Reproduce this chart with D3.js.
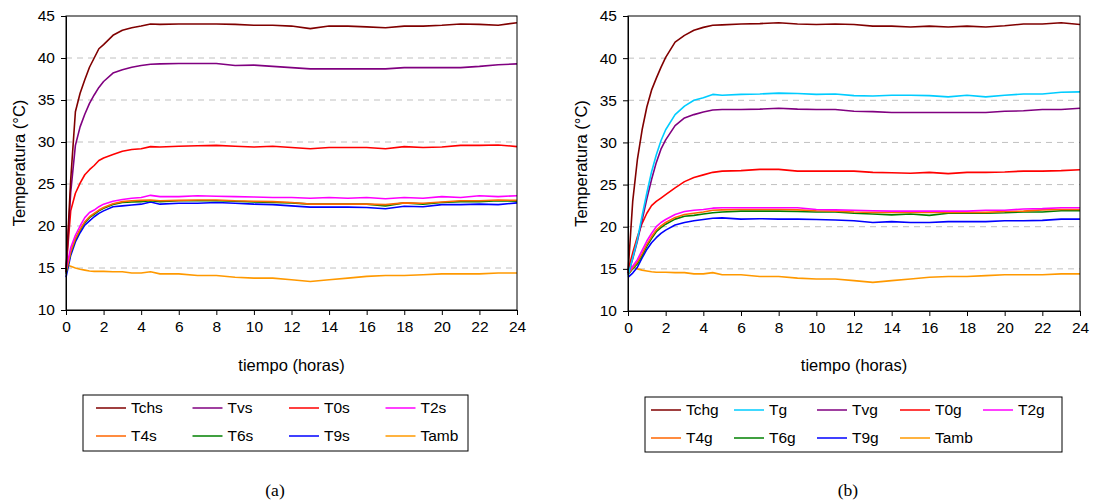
<!DOCTYPE html>
<html><head><meta charset="utf-8">
<script src="https://cdn.jsdelivr.net/npm/d3@7"></script>
<style>body{margin:0;background:#fff;} svg{display:block;}</style>
</head><body>
<svg id="chart" width="1093" height="502"></svg>
<script>
// time (hours)
const hours = [0,0.25,0.5,0.75,1,1.25,1.5,1.75,2,2.5,3,3.5,4,4.5,5,6,7,8,9,10,11,12,13,14,15,16,17,18,19,20,21,22,23,24];
const xTicks = [0,2,4,6,8,10,12,14,16,18,20,22,24];
const yTicks = [10,15,20,25,30,35,40,45];

// panel (a)
const Tchs = [14.5,25.5,33.6,35.8,37.4,38.9,40.0,41.1,41.6,42.7,43.3,43.6,43.8,44.05,44.0,44.05,44.05,44.05,44.0,43.9,43.9,43.8,43.5,43.8,43.8,43.7,43.6,43.8,43.8,43.9,44.05,44.0,43.9,44.2];
const Tvs  = [14.5,24.0,29.6,31.8,33.3,34.6,35.6,36.5,37.2,38.2,38.6,38.9,39.1,39.25,39.3,39.35,39.35,39.35,39.1,39.15,39.0,38.85,38.7,38.7,38.7,38.7,38.7,38.85,38.85,38.85,38.85,39.0,39.2,39.3];
const T0s  = [14.8,21.8,23.9,25.1,26.1,26.7,27.2,27.8,28.1,28.5,28.9,29.1,29.2,29.45,29.4,29.5,29.55,29.6,29.5,29.4,29.5,29.35,29.2,29.35,29.35,29.35,29.2,29.45,29.35,29.4,29.6,29.6,29.65,29.45];
const T2s  = [14.8,17.4,18.9,20.0,21.0,21.6,21.9,22.3,22.6,22.95,23.15,23.3,23.4,23.65,23.5,23.5,23.6,23.55,23.5,23.45,23.4,23.4,23.3,23.4,23.3,23.4,23.25,23.4,23.3,23.5,23.4,23.6,23.5,23.6];
const T4s  = [14.5,16.9,18.5,19.6,20.5,21.1,21.5,21.9,22.2,22.65,22.9,23.0,23.05,23.1,23.0,23.05,23.1,23.1,23.0,22.95,22.9,22.8,22.6,22.6,22.6,22.6,22.55,22.75,22.7,22.85,23.0,23.0,23.1,23.05];
const T6s  = [14.3,16.8,18.4,19.5,20.4,21.0,21.4,21.8,22.1,22.55,22.8,22.85,22.9,23.0,22.9,23.0,23.0,23.0,22.95,22.85,22.8,22.75,22.6,22.6,22.6,22.6,22.4,22.75,22.6,22.8,22.9,22.9,23.0,22.95];
const T9s  = [13.9,16.5,18.1,19.2,20.1,20.6,21.1,21.5,21.8,22.3,22.4,22.5,22.6,22.85,22.6,22.7,22.7,22.8,22.7,22.6,22.55,22.4,22.25,22.25,22.25,22.2,22.05,22.35,22.3,22.55,22.55,22.6,22.55,22.75];
const Tamb = [15.35,15.2,15.0,14.85,14.75,14.65,14.6,14.6,14.6,14.55,14.55,14.4,14.4,14.55,14.3,14.3,14.1,14.1,13.9,13.8,13.8,13.6,13.4,13.6,13.8,14.0,14.1,14.1,14.2,14.3,14.3,14.3,14.4,14.4];

// panel (b)
const Tchg = [14.5,23.0,28.0,31.5,34.2,36.2,37.6,38.9,40.1,41.9,42.7,43.3,43.65,43.9,43.95,44.05,44.1,44.2,44.05,44.0,44.05,44.0,43.8,43.8,43.7,43.8,43.7,43.8,43.7,43.85,44.05,44.05,44.2,44.0];
const Tg   = [14.2,16.3,18.5,21.3,24.0,26.5,28.5,30.2,31.5,33.3,34.3,35.0,35.3,35.7,35.6,35.7,35.75,35.85,35.8,35.7,35.75,35.55,35.5,35.6,35.6,35.55,35.4,35.6,35.4,35.6,35.75,35.75,35.95,36.0];
const Tvg  = [14.3,16.2,18.3,20.8,23.3,25.6,27.6,29.2,30.3,32.0,32.9,33.3,33.6,33.85,33.9,33.9,33.95,34.05,33.95,33.9,33.9,33.7,33.65,33.55,33.55,33.55,33.55,33.55,33.55,33.7,33.75,33.9,33.9,34.05];
const T0g  = [14.8,16.9,18.8,20.4,21.6,22.5,23.0,23.4,23.8,24.6,25.35,25.85,26.15,26.45,26.6,26.65,26.8,26.8,26.6,26.6,26.6,26.6,26.45,26.4,26.35,26.45,26.3,26.45,26.45,26.5,26.6,26.6,26.65,26.75];
const T2g  = [14.5,15.3,16.1,17.2,18.3,19.2,20.0,20.5,20.85,21.45,21.8,21.95,22.05,22.2,22.25,22.25,22.25,22.25,22.25,22.05,22.0,21.95,21.9,21.85,21.85,21.85,21.85,21.85,21.95,21.95,22.1,22.15,22.25,22.25];
const T4g  = [14.4,15.1,15.8,16.8,17.9,18.8,19.6,20.1,20.5,21.1,21.45,21.6,21.75,21.95,22.0,22.05,22.05,22.05,22.0,21.9,21.85,21.75,21.7,21.7,21.7,21.7,21.7,21.7,21.7,21.8,21.85,22.0,22.05,22.05];
const T6g  = [14.3,15.0,15.6,16.6,17.7,18.6,19.4,19.9,20.3,20.9,21.25,21.35,21.5,21.65,21.75,21.85,21.85,21.85,21.8,21.75,21.75,21.6,21.5,21.4,21.5,21.35,21.6,21.6,21.6,21.65,21.75,21.75,21.9,21.9];
const T9g  = [14.0,14.5,15.2,16.3,17.3,18.1,18.7,19.2,19.6,20.2,20.5,20.7,20.85,21.0,21.05,20.9,20.95,20.9,20.9,20.85,20.8,20.7,20.5,20.6,20.5,20.5,20.6,20.6,20.6,20.7,20.7,20.75,20.9,20.9];

const seriesA = [
  {name:"Tchs", values:Tchs, color:"#800000"},
  {name:"Tvs",  values:Tvs,  color:"#800080"},
  {name:"T0s",  values:T0s,  color:"#FF0000"},
  {name:"T2s",  values:T2s,  color:"#FF00FF"},
  {name:"T4s",  values:T4s,  color:"#FF6600"},
  {name:"T6s",  values:T6s,  color:"#008000"},
  {name:"T9s",  values:T9s,  color:"#0000FF"},
  {name:"Tamb", values:Tamb, color:"#FF9900"}
];
const seriesB = [
  {name:"Tchg", values:Tchg, color:"#800000"},
  {name:"Tg",   values:Tg,   color:"#00CCFF"},
  {name:"Tvg",  values:Tvg,  color:"#800080"},
  {name:"T0g",  values:T0g,  color:"#FF0000"},
  {name:"T2g",  values:T2g,  color:"#FF00FF"},
  {name:"T4g",  values:T4g,  color:"#FF6600"},
  {name:"T6g",  values:T6g,  color:"#008000"},
  {name:"T9g",  values:T9g,  color:"#0000FF"},
  {name:"Tamb", values:Tamb, color:"#FF9900"}
];

const svg = d3.select("#chart");
const FONT = "Liberation Sans, Arial, sans-serif";

function panel(cfg) {
  const x = d3.scaleLinear().domain([0,24]).range([cfg.x0, cfg.x1]);
  const y = d3.scaleLinear().domain([10,45]).range([cfg.y1, cfg.y0]);
  const g = svg.append("g");

  // grid
  g.selectAll("line.grid").data(yTicks.filter(v => v > 10 && v < 45)).enter()
    .append("line").attr("x1", cfg.x0).attr("x2", cfg.x1)
    .attr("y1", d => y(d)).attr("y2", d => y(d))
    .attr("stroke", "#c0c0c0").attr("stroke-width", 1).attr("stroke-dasharray", "6,5");

  // lines
  const line = d3.line().x((d,i) => x(hours[i])).y(d => y(d));
  cfg.series.slice().reverse().forEach(s => {
    g.append("path").datum(s.values).attr("d", line)
      .attr("fill", "none").attr("stroke", s.color).attr("stroke-width", 1.6)
      .attr("stroke-linejoin", "round");
  });

  // frame
  g.append("rect").attr("x", cfg.x0).attr("y", cfg.y0)
    .attr("width", cfg.x1 - cfg.x0).attr("height", cfg.y1 - cfg.y0)
    .attr("fill", "none").attr("stroke", "#000").attr("stroke-width", 1);

  // axes
  const xa = g.append("g").attr("transform", `translate(0,${cfg.y1})`)
    .call(d3.axisBottom(x).tickValues(xTicks).tickSize(5).tickPadding(6).tickFormat(d3.format("d")));
  const ya = g.append("g").attr("transform", `translate(${cfg.x0},0)`)
    .call(d3.axisLeft(y).tickValues(yTicks).tickSize(5).tickPadding(6).tickFormat(d3.format("d")));
  [xa, ya].forEach(a => {
    a.select(".domain").attr("stroke", "#000");
    a.selectAll(".tick line").attr("stroke", "#000");
    a.selectAll("text").attr("font-family", FONT).attr("font-size", 15.5).attr("fill", "#000");
  });

  // titles
  g.append("text").attr("x", (cfg.x0 + cfg.x1) / 2).attr("y", 371)
    .attr("text-anchor", "middle").attr("font-family", FONT).attr("font-size", 16.5)
    .text("tiempo (horas)");
  g.append("text").attr("transform", `translate(${cfg.x0 - 41},${(cfg.y0 + cfg.y1) / 2}) rotate(-90)`)
    .attr("text-anchor", "middle").attr("font-family", FONT).attr("font-size", 16.5)
    .text("Temperatura (°C)");

  // legend
  const L = cfg.legend;
  g.append("rect").attr("x", L.x).attr("y", L.y).attr("width", L.w).attr("height", L.h)
    .attr("fill", "#fff").attr("stroke", "#000").attr("stroke-width", 1);
  cfg.series.forEach((s, i) => {
    const col = i % L.cols, row = Math.floor(i / L.cols);
    const lx = L.x + L.pad + col * L.colW;
    const ly = L.y + 13 + row * 28;
    g.append("line").attr("x1", lx).attr("x2", lx + 30).attr("y1", ly).attr("y2", ly)
      .attr("stroke", s.color).attr("stroke-width", 2).attr("stroke-opacity", 0.75);
    g.append("text").attr("x", lx + 35).attr("y", ly + 5)
      .attr("font-family", FONT).attr("font-size", 15.5).text(s.name);
  });

  // panel label
  g.append("text").attr("x", cfg.labelX).attr("y", 496).attr("text-anchor", "middle")
    .attr("font-family", "Liberation Serif, Times New Roman, serif").attr("font-size", 17.5)
    .text(cfg.label);
}

panel({x0:66, x1:517, y0:16, y1:310, series:seriesA, label:"(a)", labelX:275,
  legend:{x:83, y:395, w:385, h:56, cols:4, colW:96.5, pad:13}});
panel({x0:628, x1:1080, y0:16, y1:311, series:seriesB, label:"(b)", labelX:848,
  legend:{x:645, y:397, w:417, h:55, cols:5, colW:83, pad:6}});
</script>
</body></html>
